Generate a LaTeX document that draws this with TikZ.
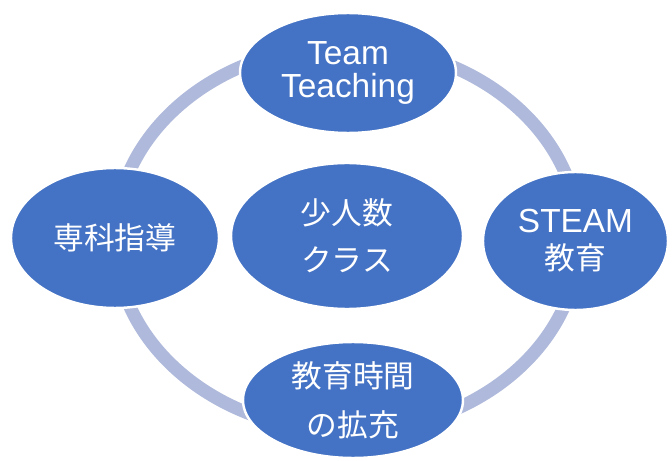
\documentclass[tikz,border=0pt]{standalone}
\usepackage{fontspec}
\setmainfont{Liberation Sans}
\newfontfamily\jpfont{Noto Sans CJK JP}
\newcommand\latinsize{\fontsize{19}{21}\selectfont}
\usetikzlibrary{shapes.geometric}
\definecolor{ovalblue}{HTML}{4472C4}
\definecolor{ringblue}{HTML}{AEB9DB}

\begin{document}
\begin{tikzpicture}[
    oval/.style={ellipse, fill=ovalblue, draw=white, line width=1.4pt, inner sep=0pt,
      text=white, align=center, font=\fontsize{17.5}{20}\selectfont}
  ]
    \useasboundingbox (0,0) rectangle (13.44,9.2);
    \draw[ringblue, line width=0.26cm] (6.94,4.43) ellipse (4.64 and 3.86);
    \node[oval, minimum width=4.32cm, minimum height=2.4cm] (team) at (6.96,7.74) {\latinsize Team\\[-1pt]\latinsize Teaching};
    \node[oval, minimum width=4.16cm, minimum height=2.8cm] (senka) at (2.30,4.44) {\jpfont 専科指導};
    \node[oval, minimum width=4.64cm, minimum height=2.92cm] (shoninzu) at (6.94,4.48) {\jpfont 少人数\\[7pt]\jpfont クラス};
    \node[oval, minimum width=3.70cm, minimum height=2.76cm] (steam) at (11.51,4.38) {\latinsize STEAM\\[1pt]\jpfont 教育};
    \node[oval, minimum width=4.40cm, minimum height=2.32cm] (jikan) at (7.06,1.20) {\jpfont 教育時間\\[8pt]\jpfont の拡充};
\end{tikzpicture}
\end{document}
